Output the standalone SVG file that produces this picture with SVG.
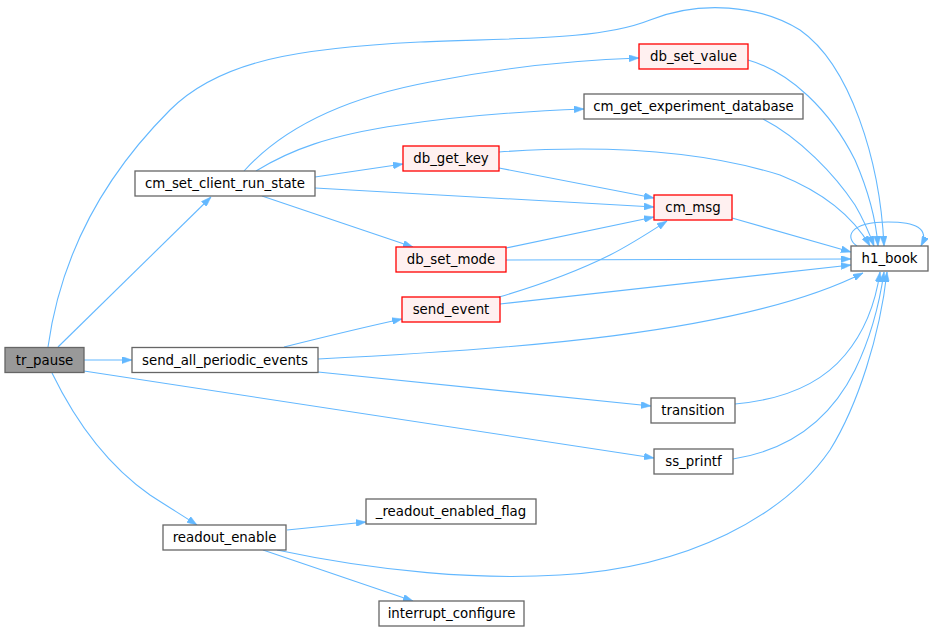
<svg xmlns="http://www.w3.org/2000/svg" width="933" height="631" viewBox="0 0 933 631">
<style>
.n rect{fill:#ffffff;stroke:#666666;stroke-width:1.3}
.n.r rect{fill:#fff0f0;stroke:#ff0000}
.n.m rect{fill:#999999;stroke:#666666}
.n text{font-family:"DejaVu Sans","Noto Sans",sans-serif;font-size:13.33px;fill:#000000;text-anchor:middle}
.e path{fill:none;stroke:#63b8ff;stroke-width:1.1;marker-end:url(#ah)}
</style>
<defs>
<marker id="ah" viewBox="0 0 10 7" refX="10" refY="3.5" markerWidth="10" markerHeight="7" markerUnits="userSpaceOnUse" orient="auto">
<path d="M0,0 L10,3.5 L0,7 z" fill="#63b8ff" stroke="#63b8ff" stroke-width="0.5"/>
</marker>
</defs>
<rect width="933" height="631" fill="#ffffff"/>
<g id="edges" class="e">
<path d="M58,347 L211,197"/>
<path d="M48,347 C60,260 100,180 170,110 C220,60 300,48 420,42 C520,38 600,40 650,20 C700,0 760,5 800,30 C850,65 880,160 884,246"/>
<path d="M244,171 C290,120 360,95 430,82 C510,66 580,60 639,58"/>
<path d="M256,171 C290,150 330,135 400,125 C460,116 530,111 584,109"/>
<path d="M315,177 L403,164"/>
<path d="M315,188 L654,207"/>
<path d="M262,196 L413,247"/>
<path d="M499,168 L654,198"/>
<path d="M499,152 C600,145 700,150 780,175 C830,195 855,220 870,246"/>
<path d="M748,60 C790,72 830,110 855,160 C868,190 876,220 878,246"/>
<path d="M763,119 C800,138 835,175 855,205 C865,222 870,235 874,246"/>
<path d="M732,218 L851,252"/>
<path d="M506,248 L654,217"/>
<path d="M506,260 L851,259"/>
<path d="M499,297 C540,285 580,270 610,255 C630,245 650,232 667,221"/>
<path d="M500,304 L851,265"/>
<path d="M857,246 C845,238 848,222 888,222 C915,222 930,228 921,246"/>
<path d="M84,360 L132,360"/>
<path d="M284,347 C320,338 360,328 402,319"/>
<path d="M318,359 C500,350 740,335 863,273"/>
<path d="M318,372 L651,406"/>
<path d="M735,404 C780,400 820,385 845,355 C866,330 876,300 880,272"/>
<path d="M84,371 L654,458"/>
<path d="M733,459 C790,450 830,420 855,370 C872,335 880,300 884,272"/>
<path d="M52,373 C70,410 100,460 150,495 C170,508 185,517 197,525"/>
<path d="M287,530 L366,522"/>
<path d="M263,550 L413,601"/>
<path d="M277,550 C380,572 480,580 560,575 C690,568 785,515 830,450 C858,405 880,335 887,272"/>
</g>
<g id="tr_pause" class="n m"><rect x="5" y="347.5" width="79" height="25"/><text x="44.5" y="364.5">tr_pause</text></g>
<g id="cm_set_client_run_state" class="n"><rect x="135" y="171" width="180" height="25"/><text x="225" y="188">cm_set_client_run_state</text></g>
<g id="send_all_periodic_events" class="n"><rect x="132" y="347.5" width="186" height="25"/><text x="225" y="364.5">send_all_periodic_events</text></g>
<g id="db_set_value" class="n r"><rect x="639" y="44" width="109" height="25"/><text x="693.5" y="61">db_set_value</text></g>
<g id="cm_get_experiment_database" class="n"><rect x="584" y="94" width="219" height="25"/><text x="693.5" y="111">cm_get_experiment_database</text></g>
<g id="db_get_key" class="n r"><rect x="403" y="146" width="96" height="25"/><text x="451" y="163">db_get_key</text></g>
<g id="cm_msg" class="n r"><rect x="654" y="195" width="78" height="25"/><text x="693" y="212">cm_msg</text></g>
<g id="db_set_mode" class="n r"><rect x="396" y="247" width="110" height="25"/><text x="451" y="264">db_set_mode</text></g>
<g id="send_event" class="n r"><rect x="402" y="297" width="98" height="25"/><text x="451" y="314">send_event</text></g>
<g id="h1_book" class="n"><rect x="851" y="246" width="77" height="25"/><text x="889.5" y="263">h1_book</text></g>
<g id="transition" class="n"><rect x="651" y="398" width="84" height="25"/><text x="693" y="415">transition</text></g>
<g id="ss_printf" class="n"><rect x="654" y="449" width="79" height="25"/><text x="693.5" y="466">ss_printf</text></g>
<g id="readout_enable" class="n"><rect x="163" y="525" width="123" height="25"/><text x="224.5" y="542">readout_enable</text></g>
<g id="_readout_enabled_flag" class="n"><rect x="366" y="499" width="170" height="25"/><text x="451" y="516">_readout_enabled_flag</text></g>
<g id="interrupt_configure" class="n"><rect x="379" y="601" width="145" height="25"/><text x="451.5" y="618">interrupt_configure</text></g>
</svg>
